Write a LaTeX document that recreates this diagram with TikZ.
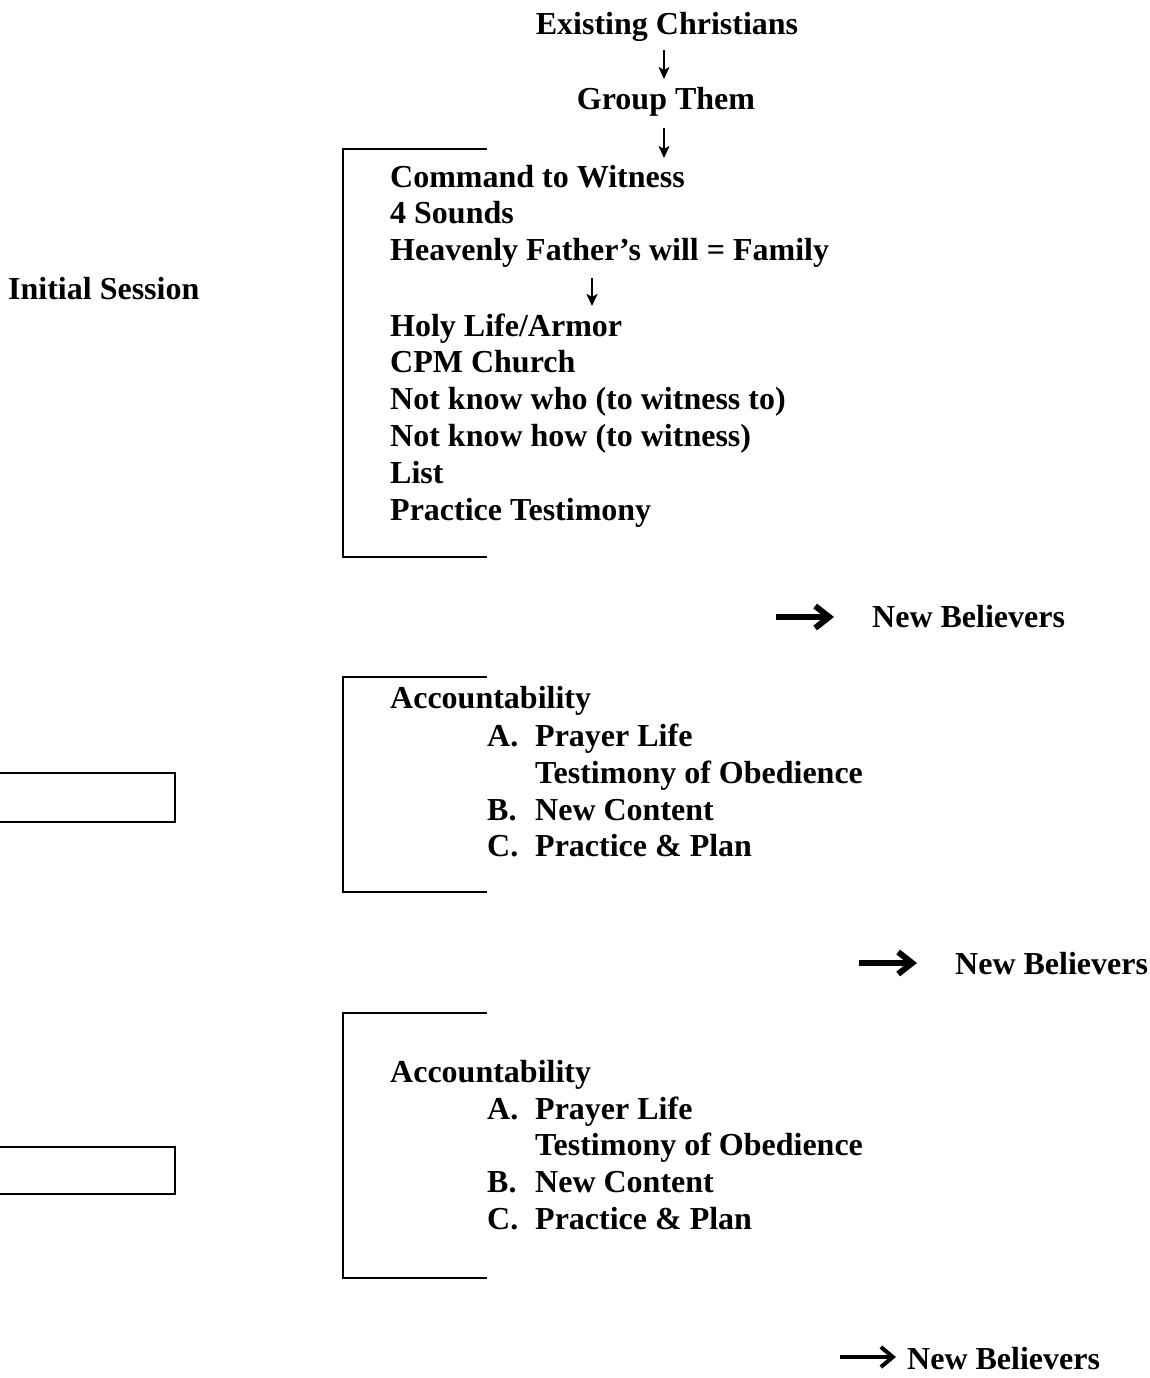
\documentclass[tikz,border=0pt]{standalone}
\usepackage{fontspec}
\setmainfont{Liberation Serif}
\usetikzlibrary{arrows.meta}
\begin{document}
\begin{tikzpicture}[x=1pt,y=-1pt,
  txt/.style={anchor=base west,inner sep=0pt,font=\fontsize{32}{36.5}\selectfont\bfseries},
  ctxt/.style={anchor=base,inner sep=0pt,font=\fontsize{32}{36.5}\selectfont\bfseries},
  thin arrow/.style={line width=2.4pt,-{Stealth[length=12pt,width=11pt,inset=3pt]}},
  thick arrow/.style={line width=5.5pt,-{Straight Barb[length=14pt,width=22pt,line width=6pt]}},
  mid arrow/.style={line width=3.4pt,-{Straight Barb[length=12pt,width=20pt,line width=4pt]}},
  frame/.style={line width=1.8pt}]
\useasboundingbox (0,0) rectangle (1149,1378);

% top
\node[ctxt] (ec) at (667,35) {Existing Christians};
\node[ctxt] (gt) at (666,110) {Group Them};
\coordinate (a1s) at (664,50); \coordinate (a1e) at (664,79);
\coordinate (a2s) at (664,128); \coordinate (a2e) at (664,158);
\draw[thin arrow] (a1s) -- (a1e);
\draw[thin arrow] (a2s) -- (a2e);

\node[txt] (is) at (8,299) {Initial Session};

% bracket 1
\coordinate (b1t) at (487,149); \coordinate (b1b) at (487,557);
\draw[frame] (b1t) -- (343,149) -- (343,557) -- (b1b);
\node[txt] (c1) at (390,187) {Command to Witness};
\node[txt] (c2) at (390,223) {4 Sounds};
\node[txt] (c3) at (390,260) {Heavenly Father’s will = Family};
\coordinate (a3s) at (592,278); \coordinate (a3e) at (592,306);
\draw[thin arrow] (a3s) -- (a3e);
\node[txt] (c4) at (390,336) {Holy Life/Armor};
\node[txt] (c5) at (390,372) {CPM Church};
\node[txt] (c6) at (390,409) {Not know who (to witness to)};
\node[txt] (c7) at (390,446) {Not know how (to witness)};
\node[txt] (c8) at (390,483) {List};
\node[txt] (c9) at (390,520) {Practice Testimony};

% new believers 1
\node[txt] (nb1) at (872,627) {New Believers};
\coordinate (n1s) at (776,617);
\draw[thick arrow] (n1s) -- (834,617);

% bracket 2
\draw[frame] (487,677) -- (343,677) -- (343,892) -- (487,892);
\node[txt] (d0) at (390,708) {Accountability};
\node[txt] (d1l) at (487,746) {A.};
\node[txt] (d1) at (535,746) {Prayer Life};
\node[txt] (d2) at (535,783) {Testimony of Obedience};
\node[txt] (d3l) at (487,820) {B.};
\node[txt] (d3) at (535,820) {New Content};
\node[txt] (d4l) at (487,856) {C.};
\node[txt] (d4) at (535,856) {Practice \& Plan};
\draw[frame] (0,773) -- (175,773) -- (175,822) -- (0,822);

% new believers 2
\node[txt] (nb2) at (955,974) {New Believers};
\coordinate (n2s) at (859,963);
\draw[thick arrow] (n2s) -- (917,963);

% bracket 3
\draw[frame] (487,1013) -- (343,1013) -- (343,1278) -- (487,1278);
\node[txt] (e0) at (390,1082) {Accountability};
\node[txt] (e1l) at (487,1119) {A.};
\node[txt] (e1) at (535,1119) {Prayer Life};
\node[txt] (e2) at (535,1155) {Testimony of Obedience};
\node[txt] (e3l) at (487,1192) {B.};
\node[txt] (e3) at (535,1192) {New Content};
\node[txt] (e4l) at (487,1229) {C.};
\node[txt] (e4) at (535,1229) {Practice \& Plan};
\draw[frame] (0,1147) -- (175,1147) -- (175,1194) -- (0,1194);

% new believers 3
\node[txt] (nb3) at (907,1369) {New Believers};
\coordinate (n3s) at (840,1357);
\draw[mid arrow] (n3s) -- (896,1357);
\end{tikzpicture}
\end{document}
